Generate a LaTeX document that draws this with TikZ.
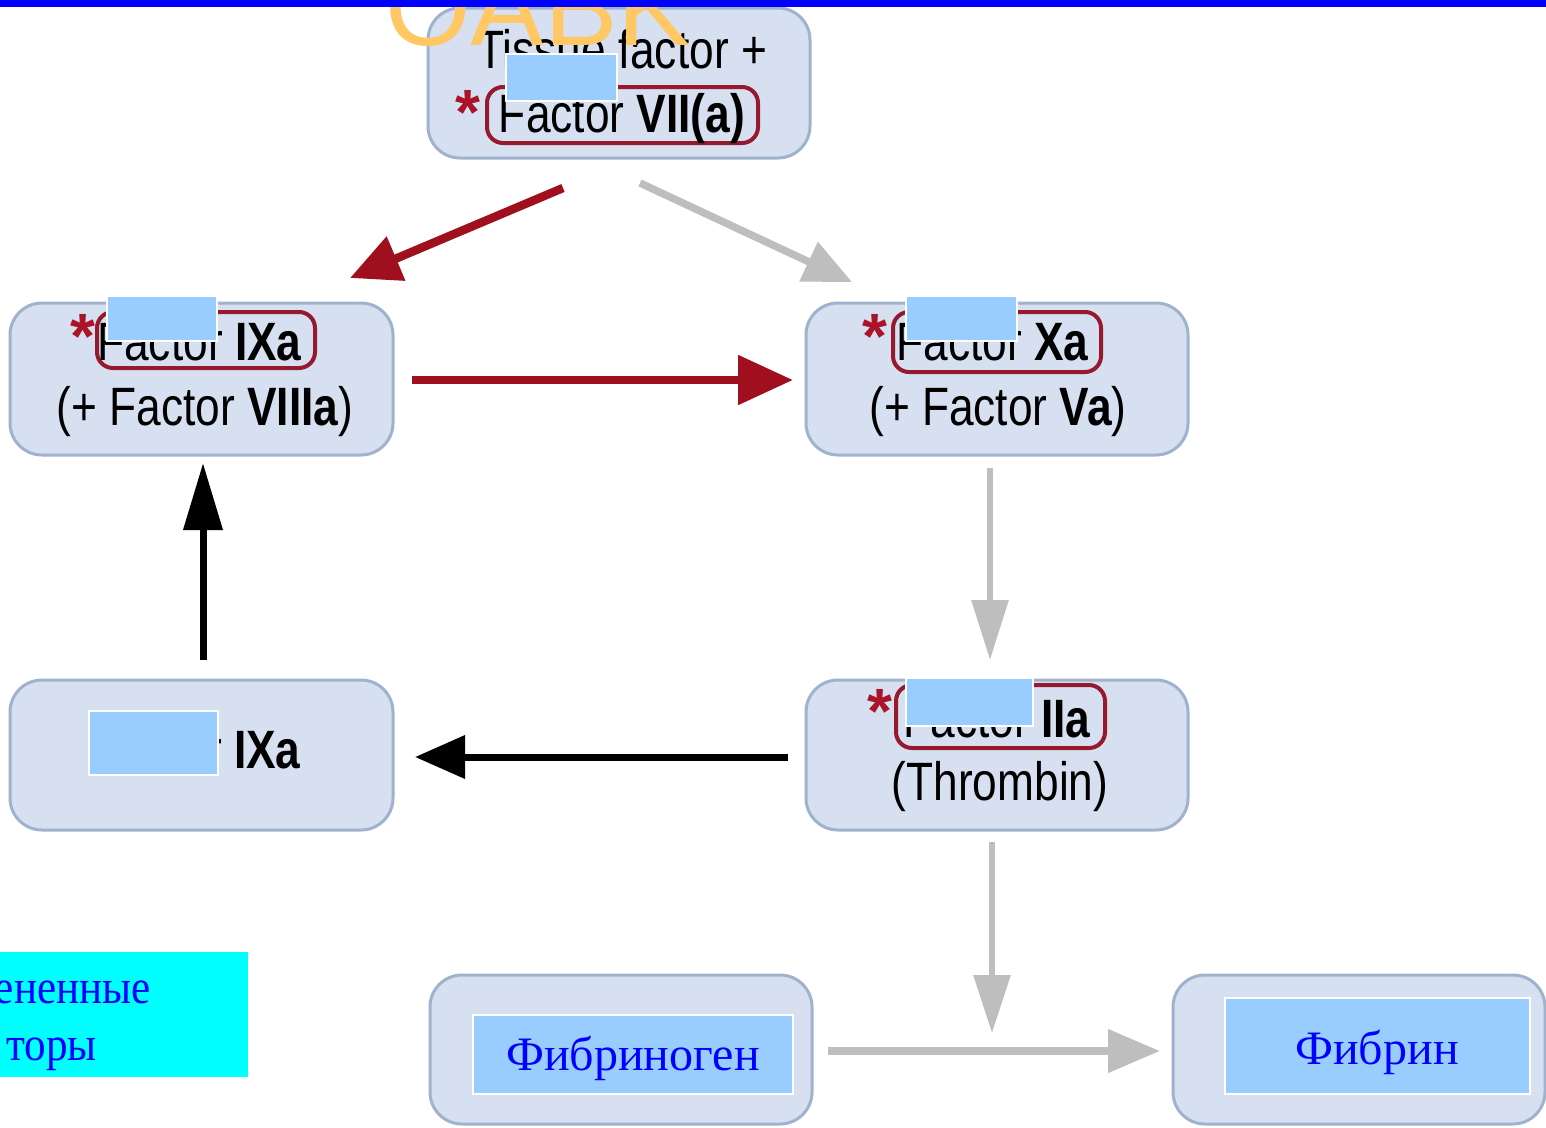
\documentclass[tikz,border=0pt]{standalone}
\usepackage{fontspec}
\setmainfont{Liberation Serif}
\newfontfamily\cond[FakeStretch=0.82]{Liberation Sans}
\newfontfamily\arialf{Liberation Sans}
\newfontfamily\rusnarrow[FakeStretch=0.9]{Liberation Serif}
\usetikzlibrary{arrows.meta}
\definecolor{boxfill}{RGB}{214,224,240}
\definecolor{boxline}{RGB}{160,178,205}
\definecolor{redline}{RGB}{150,25,45}
\definecolor{starred}{RGB}{170,20,40}
\definecolor{hidebl}{RGB}{153,204,255}
\definecolor{arrred}{RGB}{160,15,30}
\definecolor{arrgray}{RGB}{190,190,190}
\definecolor{oabk}{RGB}{255,200,100}
\definecolor{ruword}{RGB}{0,0,255}
\definecolor{cyanbg}{RGB}{0,255,255}
\definecolor{topbar}{RGB}{0,0,255}
\tikzset{
  box/.style={draw=boxline, fill=boxfill, line width=3pt, rounded corners=32pt, inner sep=0pt},
  redbox/.style={draw=redline, line width=4pt, rounded corners=16pt, inner sep=0pt},
  hidebox/.style={draw=white, fill=hidebl, line width=2.5pt, inner sep=0pt},
  fac/.style={font=\cond\fontsize{54}{60}\selectfont, inner sep=0pt},
  redstar/.style={text=starred, font=\arialf\bfseries\fontsize{64}{64}\selectfont, inner sep=0pt},
  ruw/.style={text=ruword, font=\fontsize{48}{56}\selectfont, inner sep=0pt},
  redarr/.style={draw=arrred, line width=8.5pt},
  grayarr/.style={draw=arrgray, line width=7.5pt},
  blackarr/.style={draw=black, line width=7pt},
}
\begin{document}
\begin{tikzpicture}[x=1pt,y=-1pt]
\useasboundingbox (0,0) rectangle (1546,1127);
\clip (0,0) rectangle (1546,1127);
\fill[white] (0,0) rectangle (1546,1127);

% boxes
\node[box, minimum width=382, minimum height=150] (tf) at (619,83) {};
\node[box, minimum width=383, minimum height=152] (ixa) at (201.5,379) {};
\node[box, minimum width=382, minimum height=152] (xa) at (997,379) {};
\node[box, minimum width=383, minimum height=150] (ixb) at (201.5,755) {};
\node[box, minimum width=382, minimum height=150] (iia) at (997,755) {};
\node[box, minimum width=382, minimum height=149] (fbg) at (621,1049.5) {};
\node[box, minimum width=372, minimum height=149] (fbn) at (1359,1049.5) {};

% red outlines
\node[redbox, minimum width=271, minimum height=56] (r7) at (622.5,115) {};
\node[redbox, minimum width=218, minimum height=56] (r9) at (206,340) {};
\node[redbox, minimum width=208, minimum height=60] (r10) at (997,342) {};
\node[redbox, minimum width=209, minimum height=63] (r2) at (1000.5,716.5) {};

% texts
\node[fac, anchor=base] (t1) at (622,68) {Tissue factor +};
\node[fac, anchor=base] (t2) at (622,132) {Factor \textbf{VII(a)}};
\node[fac, anchor=base east] (t3) at (302,360) {Factor \textbf{IXa}};
\node[fac, anchor=base] (t4) at (205,425) {(+ Factor \textbf{VIIIa})};
\node[fac, anchor=base east] (t5) at (1089,360) {Factor \textbf{Xa}};
\node[fac, anchor=base] (t6) at (998,425) {(+ Factor \textbf{Va})};
\node[fac, anchor=base east] (t7) at (301,768) {Factor \textbf{IXa}};
\node[fac, anchor=base east] (t8) at (1091,737) {Factor \textbf{IIa}};
\node[fac, anchor=base] (t9) at (1000,800) {(Thrombin)};

% stars
\node[redstar] (s1) at (468,112) {*};
\node[redstar] (s2) at (83,336) {*};
\node[redstar] (s3) at (875,336) {*};
\node[redstar] (s4) at (880,711) {*};

% hiding rectangles
\node[hidebox, minimum width=111, minimum height=47] (h1) at (561.5,77.5) {};
\node[hidebox, minimum width=110, minimum height=45] (h2) at (162,318.5) {};
\node[hidebox, minimum width=111, minimum height=45] (h3) at (961.5,318.5) {};
\node[hidebox, minimum width=129, minimum height=64] (h4) at (153.5,743) {};
\node[hidebox, minimum width=127, minimum height=48] (h5) at (969.5,702) {};

% Russian labels
\node[hidebox, minimum width=320, minimum height=79] (fg) at (633,1054.5) {};
\node[ruw, anchor=base] (fgt) at (633,1070) {Фибриноген};
\node[hidebox, minimum width=305, minimum height=96] (fn) at (1377.5,1046) {};
\node[ruw, anchor=base] (fnt) at (1377,1064) {Фибрин};
\node[fill=cyanbg, inner sep=0pt, minimum width=258, minimum height=125] (cy) at (119,1014.5) {};
\node[ruw, font=\rusnarrow\fontsize{48}{56}\selectfont, anchor=base east] (cy1) at (151,1003) {ененные};
\node[ruw, font=\rusnarrow\fontsize{48}{56}\selectfont, anchor=base east] (cy2) at (97,1060) {торы};

% arrow coordinates
\coordinate (a1s) at (563,188); \coordinate (a1e) at (350,278);
\coordinate (a2s) at (640,183); \coordinate (a2e) at (852,282);
\coordinate (a3s) at (412,380); \coordinate (a3e) at (793,380);
\coordinate (a4s) at (990,468); \coordinate (a4e) at (990,660);
\coordinate (a5s) at (203,660); \coordinate (a5e) at (203,463);
\coordinate (a6s) at (788,757); \coordinate (a6e) at (415,757);
\coordinate (a7s) at (992,842); \coordinate (a7e) at (992,1033);
\coordinate (a8s) at (828,1051); \coordinate (a8e) at (1160,1051);

\draw[redarr, -{Triangle[length=50pt,width=46pt]}] (a1s) -- (a1e);
\draw[grayarr, -{Triangle[length=48pt,width=42pt]}] (a2s) -- (a2e);
\draw[redarr, -{Triangle[length=55pt,width=48pt]}] (a3s) -- (a3e);
\draw[grayarr, line width=6pt, -{Triangle[length=60pt,width=36pt]}] (a4s) -- (a4e);
\draw[blackarr, -{Triangle[length=67pt,width=38pt]}] (a5s) -- (a5e);
\draw[blackarr, -{Triangle[length=50pt,width=42pt]}] (a6s) -- (a6e);
\draw[grayarr, line width=6pt, -{Triangle[length=58pt,width=36pt]}] (a7s) -- (a7e);
\draw[grayarr, -{Triangle[length=52pt,width=42pt]}] (a8s) -- (a8e);

% overlay title
\node[text=oabk, font=\arialf\fontsize{110}{110}\selectfont, anchor=base west, inner sep=0pt] (title) at (385,45) {OABK};
\fill[topbar] (0,0) rectangle (1546,7);
\end{tikzpicture}
\end{document}
